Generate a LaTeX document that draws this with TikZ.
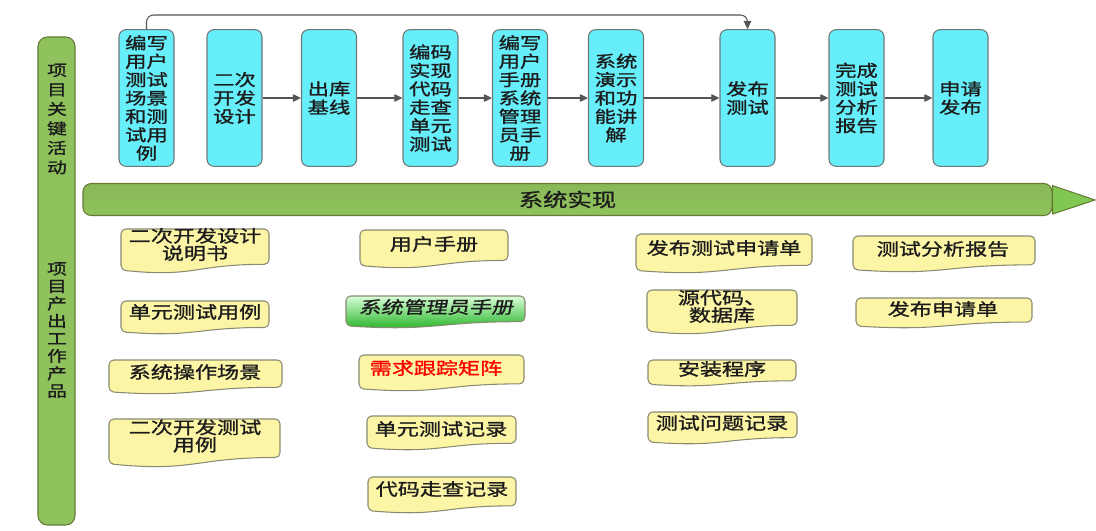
\documentclass[tikz,border=0pt]{standalone}
\usepackage{fontspec}
\setmainfont{Noto Sans CJK SC}[FakeStretch=1.3,FakeBold=1.2]
\newfontfamily\slantcjk{Noto Sans CJK SC}[FakeStretch=1.3,FakeBold=1.2,FakeSlant=0.2]
\usepackage{xcolor}
\usetikzlibrary{positioning,calc,arrows.meta}

\definecolor{actcyan}{HTML}{66EEFA}
\definecolor{actedge}{HTML}{6F7878}
\definecolor{bargreen}{HTML}{8FC25C}
\definecolor{baredge}{HTML}{667A36}
\definecolor{docyellow}{HTML}{FCF5A6}
\definecolor{docedge}{HTML}{8A8A72}
\definecolor{flowgray}{HTML}{555555}
\definecolor{inkdark}{HTML}{1C1C1C}

\newcommand{\boxfont}{\fontsize{14}{15.7}\selectfont}
\newcommand{\docfont}{\fontsize{14.5}{14.8}\selectfont}

% wavy document shape: (x1,y1) top left, (x2,y2) lowest edge
\newcommand{\docshape}[5][docbox]{%
  \draw[#1] (#2,#3) -- (#4,#3) -- (#4,{#3+0.802*(#5-#3)})
    .. controls ({(#2+#4)/2},{#3+0.802*(#5-#3)}) and ({(#2+#4)/2},{#3+1.107*(#5-#3)}) .. (#2,{#3+0.934*(#5-#3)}) -- cycle;}

\tikzset{
  actbox/.style={draw=actedge, line width=0.9pt, fill=actcyan, rounded corners=6pt,
    minimum width=1.65cm, minimum height=4.1cm, inner sep=1pt, align=center,
    text=inkdark, font=\boxfont},
  flow/.style={draw=flowgray, line width=0.9pt, -{Triangle[length=7pt,width=6.5pt]}},
  keybar/.style={draw=baredge, line width=0.9pt, fill=bargreen, rounded corners=8pt,
    minimum width=1.11cm, minimum height=14.64cm},
  bartext/.style={align=center, text=inkdark, inner sep=0pt},
  banner/.style={draw=baredge, line width=0.9pt, rounded corners=7pt,
    top color=bargreen!95!black, middle color=bargreen!45!white, bottom color=bargreen,
    minimum width=29.07cm, minimum height=0.96cm, text=inkdark,
    font=\fontsize{16}{18}\selectfont},
  bannerhead/.style={draw=baredge, line width=0.9pt, fill=bargreen!90!green},
  docbox/.style={draw=docedge, line width=0.9pt, fill=docyellow, rounded corners=4pt},
  greendoc/.style={draw=docedge, line width=0.9pt, rounded corners=4pt,
    top color=green!15!white, bottom color=green!65!black!90},
  doctext/.style={align=center, text=inkdark, font=\docfont, inner sep=0pt}
}

\begin{document}
\begin{tikzpicture}[x=0.03cm, y=-0.03cm]
    \useasboundingbox (0,0) rectangle (1096,530);

    % Left bar
    \node[keybar] (bar) at (56.5,281) {};
    \node[bartext, font=\fontsize{13}{16.6}\selectfont] (keyact) at (57,119) {项\\目\\关\\键\\活\\动};
    \node[bartext, font=\fontsize{13}{14.9}\selectfont] (keyout) at (57,330) {项\\目\\产\\出\\工\\作\\产\\品};

    % Key activities
    \node[actbox] (b1) at (146.5,98) {编写\\用户\\测试\\场景\\和测\\试用\\例};
    \node[actbox] (b2) at (234.5,98) {二次\\开发\\设计};
    \node[actbox] (b3) at (329,98) {出库\\基线};
    \node[actbox] (b4) at (430.5,98) {编码\\实现\\代码\\走查\\单元\\测试};
    \node[actbox] (b5) at (520,98) {编写\\用户\\手册\\系统\\管理\\员手\\册};
    \node[actbox] (b6) at (616,98) {系统\\演示\\和功\\能讲\\解};
    \node[actbox] (b7) at (747.5,98) {发布\\测试};
    \node[actbox] (b8) at (856.5,98) {完成\\测试\\分析\\报告};
    \node[actbox] (b9) at (960.5,98) {申请\\发布};

    \foreach \a/\b in {b2/b3,b3/b4,b4/b5,b5/b6,b6/b7,b7/b8,b8/b9}
        \draw[flow] (\a) -- (\b);
    \coordinate (looptop) at (440,15);
    \draw[flow, rounded corners=6pt] (b1.north) |- (looptop) -| (b7.north);

    % Banner arrow
    \node[banner] (impl) at (567.5,199.5) {系统实现};
    \coordinate (tip) at (1095,200);
    \draw[bannerhead] ([yshift=-0.08cm]impl.north east) -- (tip) -- ([yshift=0.06cm]impl.south east) -- cycle;

    % Work products, first column
    \docshape{121}{229}{269}{273}
    \node[doctext] (p1) at (195,244.5) {二次开发设计\\说明书};
    \docshape{121}{301}{269}{334}
    \node[doctext] (p2) at (195,312) {单元测试用例};
    \docshape{109}{360}{282}{394}
    \node[doctext] (p3) at (195,372) {系统操作场景};
    \docshape{109}{419}{280}{467}
    \node[doctext] (p4) at (195,436) {二次开发测试\\用例};

    % second column
    \docshape{360}{230}{508}{268}
    \node[doctext] (q1) at (434,244) {用户手册};
    \docshape[greendoc]{346}{296}{525}{328}
    \node[doctext, font=\slantcjk\docfont] (q2) at (436,307) {系统管理员手册};
    \docshape{359}{355}{524}{391}
    \node[doctext, text=red] (q3) at (436,368) {需求跟踪矩阵};
    \docshape{367}{416}{516}{450}
    \node[doctext] (q4) at (441,429) {单元测试记录};
    \docshape{368}{477}{516}{513}
    \node[doctext] (q5) at (442,489) {代码走查记录};

    % third column
    \docshape{636}{234}{812}{273}
    \node[doctext] (r1) at (724,248) {发布测试申请单};
    \docshape{647}{290}{797}{334}
    \node[doctext] (r2) at (722,306.5) {源代码、\\数据库};
    \docshape{648}{360}{796}{386}
    \node[doctext] (r3) at (722,369) {安装程序};
    \docshape{648}{412}{797}{444}
    \node[doctext] (r4) at (722,423) {测试问题记录};

    % fourth column
    \docshape{853}{236}{1035}{272}
    \node[doctext] (s1) at (943,249) {测试分析报告};
    \docshape{856}{298}{1032}{328}
    \node[doctext] (s2) at (943,309) {发布申请单};
\end{tikzpicture}
\end{document}
